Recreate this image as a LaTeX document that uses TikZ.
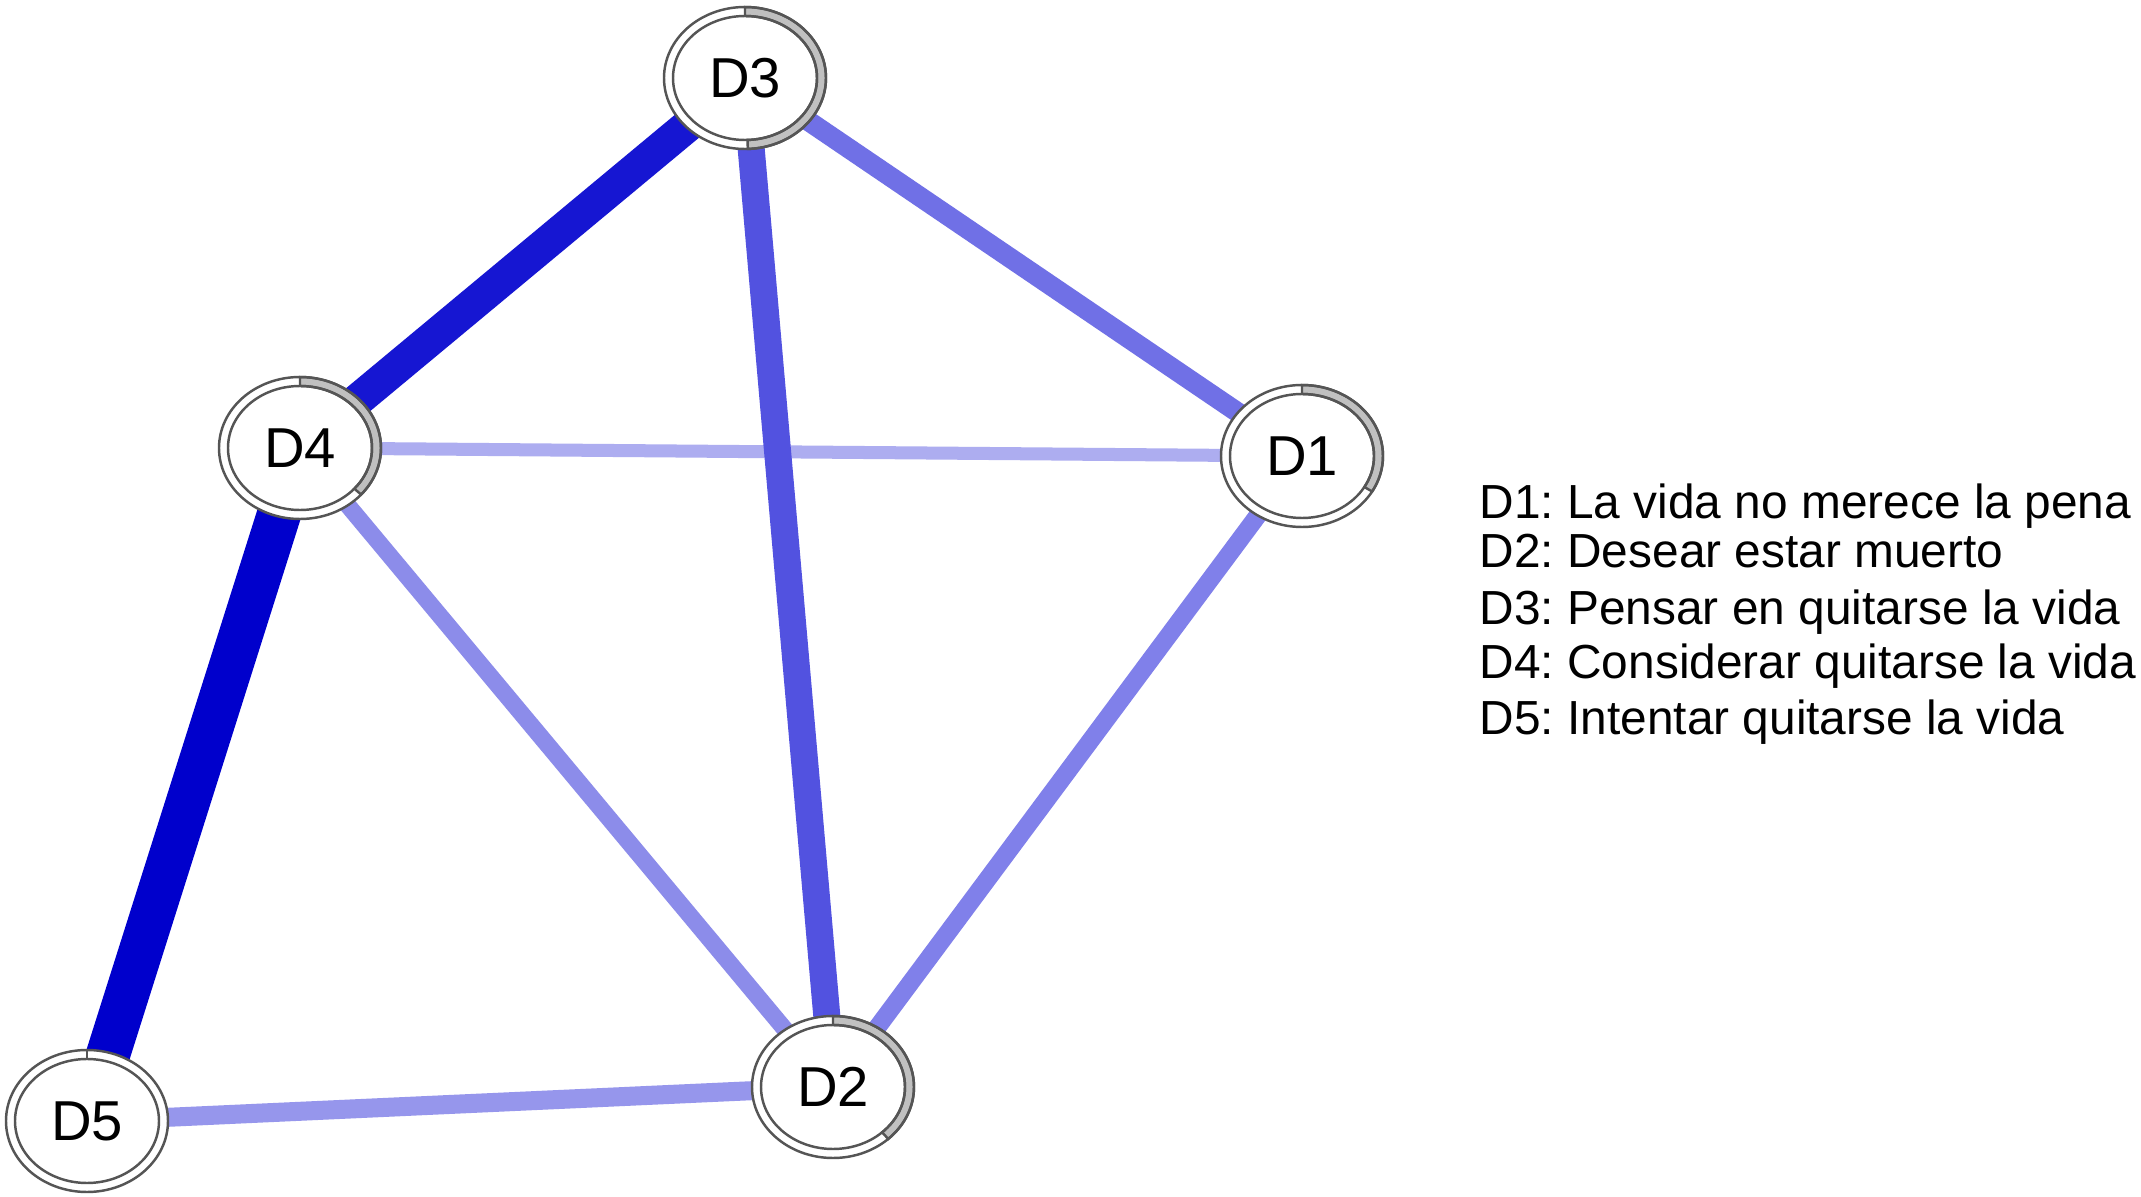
\documentclass[tikz,border=0pt]{standalone}
\usepackage{fontspec}
\setmainfont{Liberation Sans}
\newfontfamily\nodefont{Liberation Sans}
\newfontfamily\legfont{Liberation Sans}
\usetikzlibrary{shapes.geometric,calc}
\pgfdeclarelayer{edgelayer}
\pgfsetlayers{edgelayer,main}
\definecolor{ringgray}{HTML}{C0C0C0}
\definecolor{ringline}{HTML}{555555}
\definecolor{cFourFive}{HTML}{0000CC}
\definecolor{cThreeFour}{HTML}{1616D2}
\definecolor{cThreeTwo}{HTML}{5252E0}
\definecolor{cThreeOne}{HTML}{7070E6}
\definecolor{cOneTwo}{HTML}{8080EA}
\definecolor{cFourTwo}{HTML}{8C8CEA}
\definecolor{cFiveTwo}{HTML}{9696EC}
\definecolor{cFourOne}{HTML}{ADADF0}
\newcommand{\ringouter}[1]{%
  \draw[ringline, line width=0.7pt] (#1) ellipse [x radius=81, y radius=71];
  \draw[ringline, line width=0.7pt] (#1) ellipse [x radius=72, y radius=62];
  \draw[ringline, line width=0.7pt] ($(#1)+(0,62)$) -- ($(#1)+(0,71)$);}
\newcommand{\grayarc}[2]{%
  \filldraw[fill=ringgray, draw=ringline, line width=0.7pt]
    ($(#1)+(90:81 and 71)$) arc[start angle=90, end angle=#2, x radius=81, y radius=71]
    -- ($(#1)+(#2:72 and 62)$) arc[start angle=#2, end angle=90, x radius=72, y radius=62] -- cycle;}
\frenchspacing
\begin{document}
\begin{tikzpicture}[x=0.01cm, y=0.01cm,
  vnode/.style={ellipse, fill=white, minimum width=1.62cm, minimum height=1.42cm, inner sep=0pt,
    font=\nodefont\fontsize{16}{19}\selectfont},
  edge/.style={line width=#1},
  legend/.style={anchor=base west, inner sep=0pt, font=\legfont\fontsize{13.6}{16}\selectfont}]
\useasboundingbox (0,0) rectangle (2141,1196);

\node[vnode] (d3) at (745,1118) {D3};
\node[vnode] (d4) at (300,748) {D4};
\node[vnode] (d1) at (1302,740) {D1};
\node[vnode] (d2) at (833,109) {D2};
\node[vnode] (d5) at (87,75) {D5};

\begin{pgfonlayer}{edgelayer}
\fill[white] (0,0) rectangle (2141,1196);
\draw[edge=0.13cm, cFourOne] (d4.center) -- (d1.center);
\draw[edge=0.19cm, cFiveTwo] (d5.center) -- (d2.center);
\draw[edge=0.17cm, cFourTwo] (d4.center) -- (d2.center);
\draw[edge=0.18cm, cOneTwo] (d1.center) -- (d2.center);
\draw[edge=0.20cm, cThreeOne] (d3.center) -- (d1.center);
\draw[edge=0.27cm, cThreeTwo] (d3.center) -- (d2.center);
\draw[edge=0.33cm, cThreeFour] (d3.center) -- (d4.center);
\draw[edge=0.44cm, cFourFive] (d4.center) -- (d5.center);
\end{pgfonlayer}

\grayarc{d3}{-88}
\grayarc{d4}{-41}
\grayarc{d1}{-30}
\grayarc{d2}{-47}
\ringouter{d3}
\ringouter{d4}
\ringouter{d1}
\ringouter{d2}
\ringouter{d5}

\node[legend] (l1) at (1479,677) {D1: La vida no merece la pena};
\node[legend] (l2) at (1479,628) {D2: Desear estar muerto};
\node[legend] (l3) at (1479,571) {D3: Pensar en quitarse la vida};
\node[legend] (l4) at (1479,518) {D4: Considerar quitarse la vida};
\node[legend] (l5) at (1479,461) {D5: Intentar quitarse la vida};
\end{tikzpicture}
\end{document}
